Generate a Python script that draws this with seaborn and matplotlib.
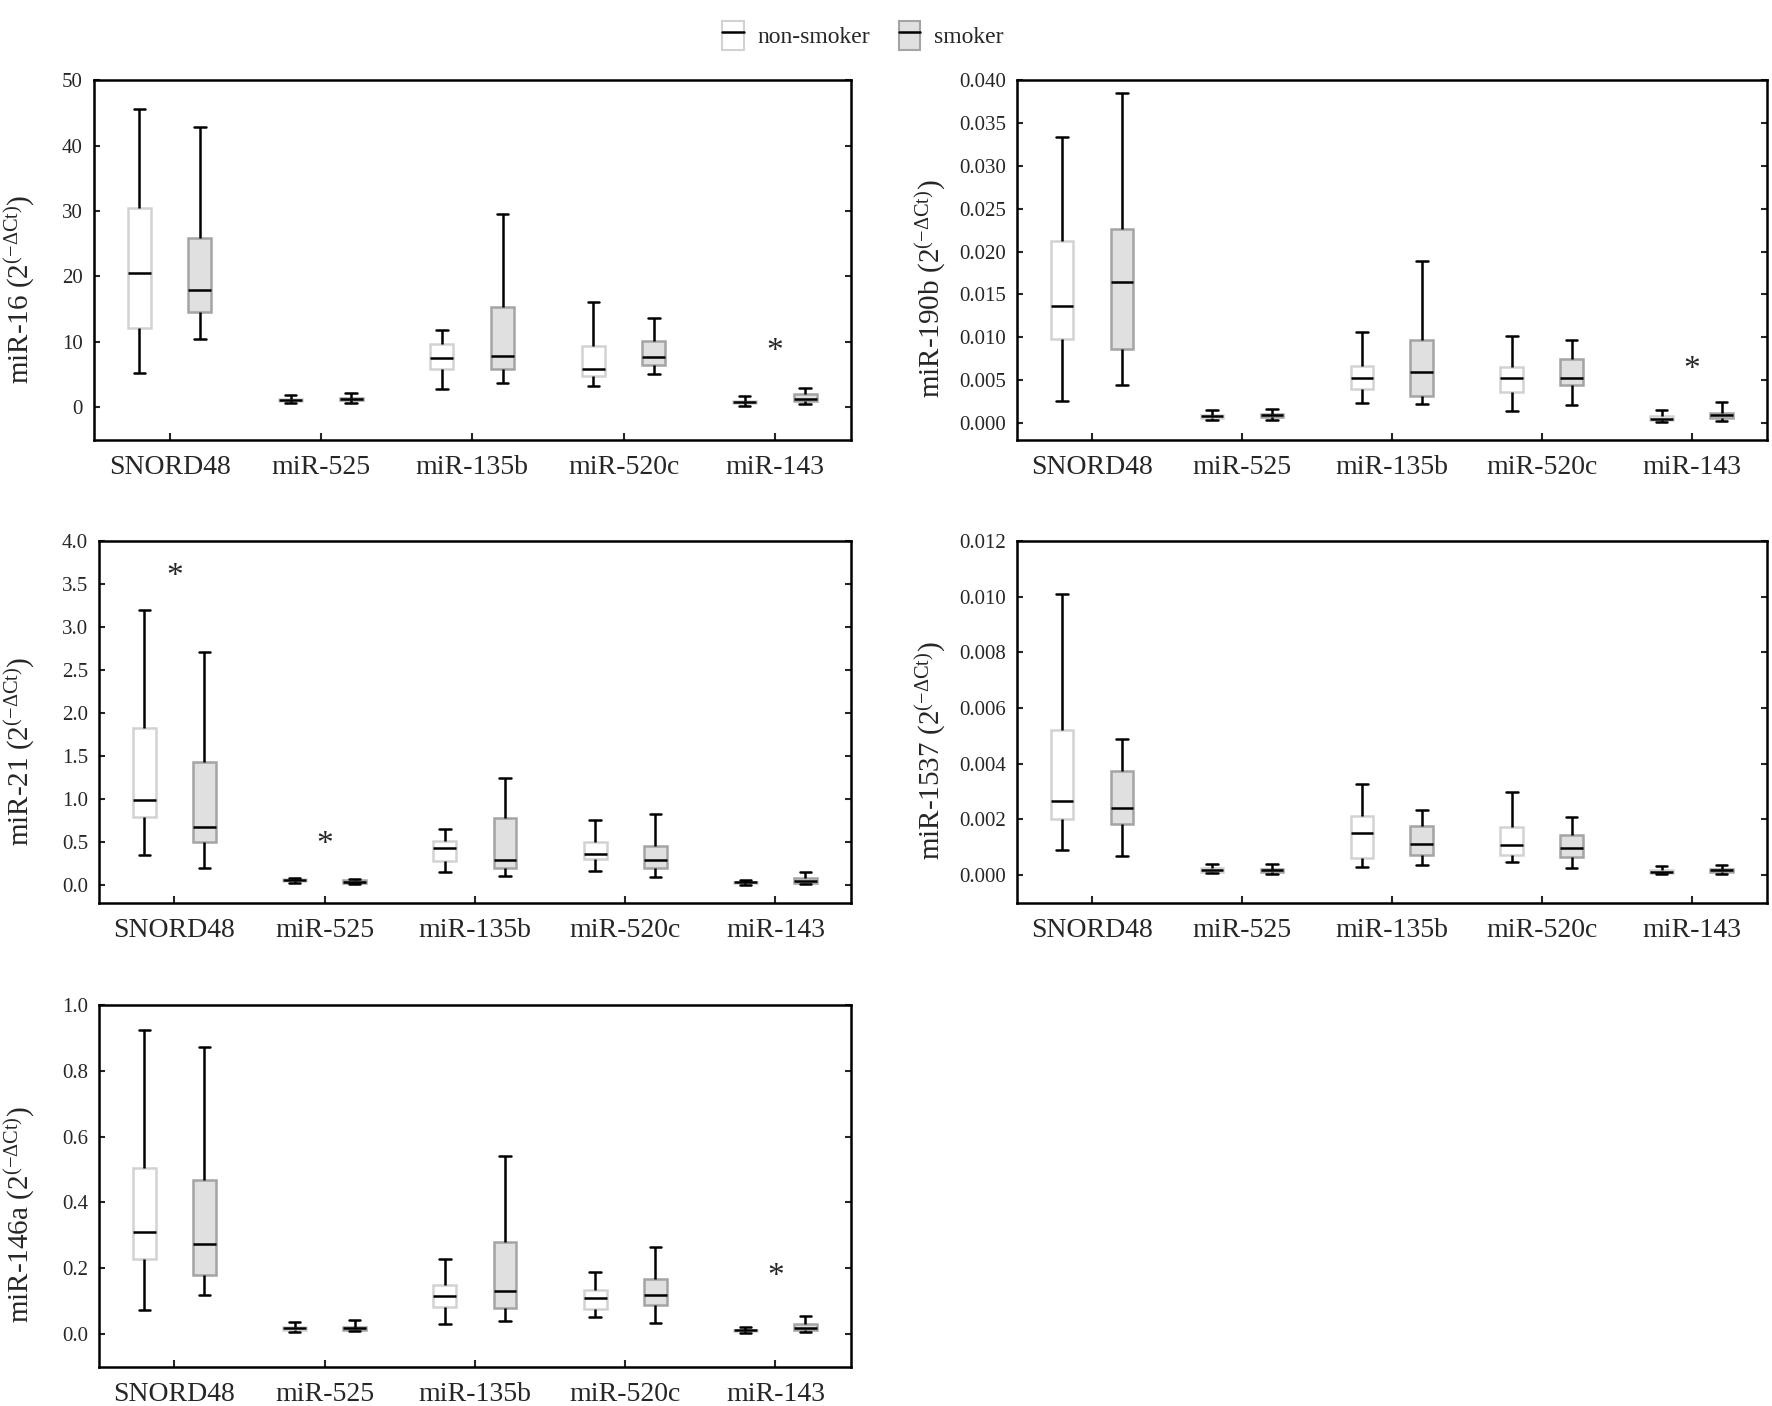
import numpy as np
import pandas as pd
import seaborn as sns
from matplotlib import pyplot as plt
from matplotlib.lines import Line2D
from matplotlib.legend_handler import HandlerTuple
from matplotlib.ticker import FormatStrFormatter, MultipleLocator
from matplotlib.transforms import blended_transform_factory

genes = ['SNORD48', 'miR-525', 'miR-135b', 'miR-520c', 'miR-143']
groups = ['non-smoker', 'smoker']

# five-number summaries per gene: min, Q1, median, Q3, max
mir16_non = [[5.3, 12.1, 20.6, 30.5, 45.6], [0.6, 0.9, 1.1, 1.3, 1.9],
             [2.8, 5.8, 7.6, 9.7, 11.8], [3.3, 4.8, 5.9, 9.3, 16.1],
             [0.25, 0.65, 0.85, 1.0, 1.8]]
mir16_smk = [[10.5, 14.5, 18.0, 25.9, 42.8], [0.65, 1.1, 1.3, 1.5, 2.2],
             [3.7, 5.8, 7.9, 15.3, 29.6], [5.1, 6.4, 7.7, 10.2, 13.6],
             [0.5, 0.9, 1.3, 2.0, 2.9]]

mir190b_non = [[0.0026, 0.0098, 0.0136, 0.0212, 0.0334], [0.0003, 0.0006, 0.0008, 0.0009, 0.0015],
               [0.0023, 0.0040, 0.0053, 0.0067, 0.0106], [0.0014, 0.0036, 0.0053, 0.0065, 0.0102],
               [0.0001, 0.0004, 0.0005, 0.0008, 0.0015]]
mir190b_smk = [[0.0044, 0.0086, 0.0165, 0.0226, 0.0385], [0.0003, 0.0007, 0.0009, 0.0011, 0.0016],
               [0.0022, 0.0032, 0.0059, 0.0097, 0.0189], [0.0021, 0.0044, 0.0053, 0.0075, 0.0097],
               [0.0002, 0.0006, 0.0009, 0.0012, 0.0025]]

mir21_non = [[0.35, 0.80, 0.99, 1.835, 3.20], [0.03, 0.047, 0.062, 0.07, 0.09],
             [0.155, 0.28, 0.43, 0.52, 0.66], [0.17, 0.31, 0.37, 0.50, 0.757],
             [0.01, 0.025, 0.035, 0.045, 0.06]]
mir21_smk = [[0.20, 0.51, 0.68, 1.44, 2.71], [0.015, 0.03, 0.043, 0.06, 0.08],
             [0.115, 0.205, 0.30, 0.78, 1.245], [0.10, 0.205, 0.30, 0.46, 0.835],
             [0.015, 0.03, 0.05, 0.09, 0.16]]

mir1537_non = [[0.00091, 0.00202, 0.00267, 0.0052, 0.0101], [0.00005, 0.00012, 0.00018, 0.00023, 0.00039],
               [0.00028, 0.0006, 0.00149, 0.00212, 0.00326], [0.00045, 0.00073, 0.00106, 0.00172, 0.00298],
               [0.00002, 0.00008, 0.00012, 0.00017, 0.00032]]
mir1537_smk = [[0.00067, 0.00184, 0.00241, 0.00374, 0.00487], [0.00003, 0.00011, 0.00017, 0.00022, 0.00039],
               [0.00034, 0.00071, 0.00111, 0.00176, 0.00235], [0.00024, 0.00066, 0.00095, 0.00144, 0.00209],
               [0.00002, 0.00011, 0.00016, 0.0002, 0.00036]]

mir146a_non = [[0.073, 0.227, 0.309, 0.506, 0.926], [0.005, 0.013, 0.017, 0.020, 0.035],
               [0.030, 0.083, 0.116, 0.148, 0.229], [0.050, 0.076, 0.108, 0.134, 0.188],
               [0.003, 0.007, 0.010, 0.013, 0.022]]
mir146a_smk = [[0.119, 0.178, 0.272, 0.468, 0.873], [0.007, 0.012, 0.017, 0.022, 0.041],
               [0.039, 0.077, 0.129, 0.279, 0.542], [0.033, 0.088, 0.119, 0.166, 0.263],
               [0.005, 0.010, 0.017, 0.031, 0.053]]

# significance marks: (gene, y)
mir16_stars = [('miR-143', 8.5)]
mir190b_stars = [('miR-143', 0.0062)]
mir21_stars = [('SNORD48', 3.59), ('miR-525', 0.47)]
mir1537_stars = []
mir146a_stars = [('miR-143', 0.175)]

panels = [
    ('miR-16', mir16_non, mir16_smk, mir16_stars, (-5, 50), 10, '%d'),
    ('miR-190b', mir190b_non, mir190b_smk, mir190b_stars, (-0.002, 0.040), 0.005, '%.3f'),
    ('miR-21', mir21_non, mir21_smk, mir21_stars, (-0.2, 4.0), 0.5, '%.1f'),
    ('miR-1537', mir1537_non, mir1537_smk, mir1537_stars, (-0.001, 0.012), 0.002, '%.3f'),
    ('miR-146a', mir146a_non, mir146a_smk, mir146a_stars, (-0.1, 1.0), 0.2, '%.1f'),
]

# axes rectangles (left, bottom, width, height) in figure fractions, and y-label x
positions = [
    (0.053, 0.687, 0.427, 0.256),
    (0.574, 0.687, 0.423, 0.256),
    (0.056, 0.358, 0.424, 0.257),
    (0.574, 0.358, 0.423, 0.257),
    (0.056, 0.028, 0.424, 0.257),
]
label_x = [0.021, 0.535, 0.021, 0.535, 0.021]

sns.set_style('white')
plt.rcParams['font.family'] = ['Liberation Serif', 'DejaVu Serif']
plt.rcParams['mathtext.fontset'] = 'custom'
plt.rcParams['mathtext.rm'] = 'Liberation Serif'
plt.rcParams['mathtext.it'] = 'Liberation Serif:italic'

fig = plt.figure(figsize=(17.72, 14.06), dpi=100)

palette = {'non-smoker': 'white', 'smoker': '#e0e0e0'}
edge_colors = {'non-smoker': '#d2d2d2', 'smoker': '#a4a4a4'}

legend_handles = None
for (name, non, smk, stars, ylim, step, fmt), pos, lx in zip(panels, positions, label_x):
    rows = []
    for g, stats in zip(genes, non):
        rows += [(g, 'non-smoker', v) for v in stats]
    for g, stats in zip(genes, smk):
        rows += [(g, 'smoker', v) for v in stats]
    df = pd.DataFrame(rows, columns=['gene', 'group', 'value'])

    ax = fig.add_axes(pos)
    sns.boxplot(data=df, x='gene', y='value', hue='group', order=genes,
                hue_order=groups, palette=palette, whis=(0, 100),
                width=0.8, gap=0.62, linecolor='black', linewidth=1.8,
                showfliers=False, ax=ax, legend=(legend_handles is None))

    for p in ax.patches:
        fc = p.get_facecolor()
        p.set_edgecolor(edge_colors['non-smoker'] if fc[0] > 0.95 else edge_colors['smoker'])

    if legend_handles is None:
        handles, labels = ax.get_legend_handles_labels()
        legend_handles = []
        for h, lab in zip(handles, labels):
            h.set_edgecolor(edge_colors[lab])
            h.set_linewidth(1.5)
            legend_handles.append((h, Line2D([], [], color='black', lw=1.8)))
        legend_labels = labels
        ax.legend_.remove()

    for gene, y in stars:
        ax.text(genes.index(gene), y, '*', ha='center', va='center', fontsize=24)

    ax.set_ylim(*ylim)
    ax.set_xlim(-0.5, len(genes) - 0.5)
    ax.yaxis.set_major_locator(MultipleLocator(step))
    ax.yaxis.set_major_formatter(FormatStrFormatter(fmt))
    ax.set_xlabel('')
    ax.set_ylabel(name + r' (2$^{(\mathrm{-\Delta Ct})}$)', fontsize=21)
    ax.yaxis.set_label_coords(lx, 0.42, transform=blended_transform_factory(fig.transFigure, ax.transAxes))
    ax.tick_params(axis='y', direction='in', left=True, right=True, length=4,
                   width=1.5, labelsize=15, pad=8)
    ax.tick_params(axis='x', direction='in', bottom=True, top=False, length=5,
                   width=1.5, labelsize=20, pad=11)
    for s in ax.spines.values():
        s.set_visible(True)
        s.set_color('black')
        s.set_linewidth(1.8)

fig.legend(legend_handles, legend_labels, loc='upper center',
           bbox_to_anchor=(0.487, 1.0), ncol=2, frameon=False, fontsize=17,
           handlelength=0.9, handleheight=1.5, columnspacing=1.2,
           handletextpad=0.6, handler_map={tuple: HandlerTuple(ndivide=1)})

fig.savefig('out.png', dpi=100)
